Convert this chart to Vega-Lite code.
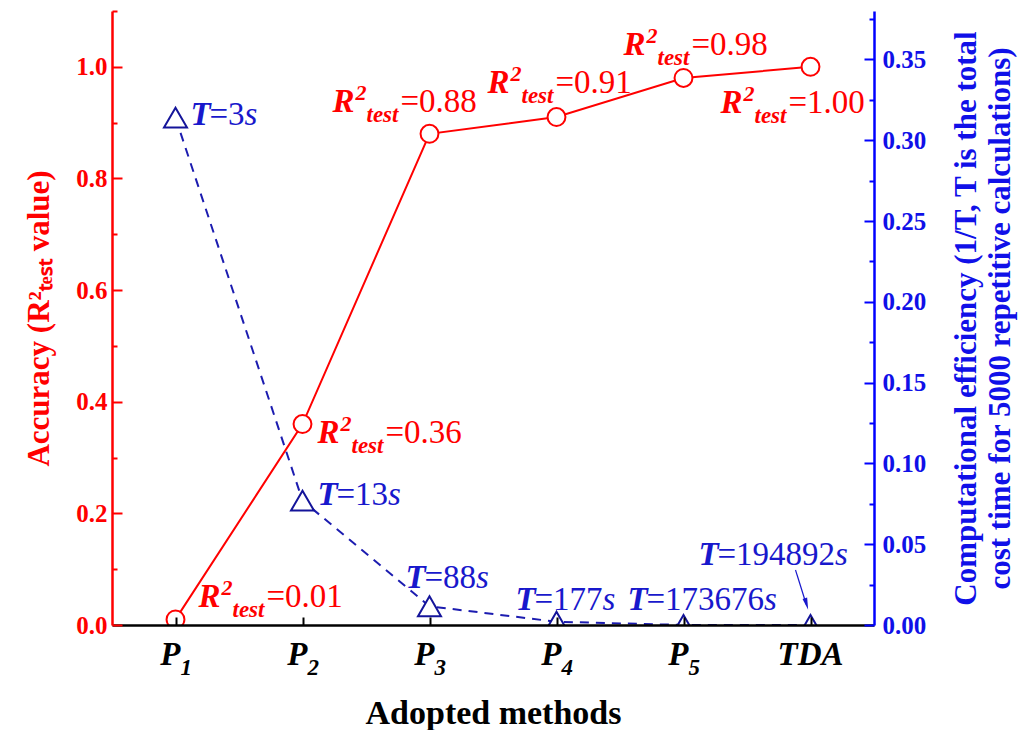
{
  "$schema": "https://vega.github.io/schema/vega-lite/v6.json",
  "width": 762,
  "height": 614,
  "autosize": "none",
  "padding": {"left": 112, "top": 11, "right": 151, "bottom": 105},
  "background": "white",
  "config": {"view": {"stroke": null}, "font": "Liberation Serif"},
  "params": [
    {"name": "rdx", "value": {"P1": 23, "P2": 15, "P3": -97, "P4": -69, "P5": -60, "TDA": -90}},
    {"name": "rdy", "value": {"P1": -12, "P2": 19, "P3": -22, "P4": -24, "P5": -23, "TDA": 46}},
    {"name": "tdx", "value": {"P1": 15, "P2": 15, "P3": -24, "P4": -41, "P5": -56, "TDA": -112}},
    {"name": "tdy", "value": {"P1": 7, "P2": 4, "P3": -18, "P4": -12, "P5": -15, "TDA": -60}}
  ],
  "data": {"values": [
    {"method": "P1", "acc": 0.01, "eff": 0.314, "accLabel": "=0.01", "tLabel": "=3"},
    {"method": "P2", "acc": 0.36, "eff": 0.077, "accLabel": "=0.36", "tLabel": "=13"},
    {"method": "P3", "acc": 0.88, "eff": 0.0116, "accLabel": "=0.88", "tLabel": "=88"},
    {"method": "P4", "acc": 0.91, "eff": 0.002, "accLabel": "=0.91", "tLabel": "=177"},
    {"method": "P5", "acc": 0.98, "eff": 0.0000058, "accLabel": "=0.98", "tLabel": "=173676"},
    {"method": "TDA", "acc": 1.0, "eff": 0.0000051, "accLabel": "=1.00", "tLabel": "=194892"}
  ]},
  "encoding": {
    "x": {
      "field": "method", "type": "ordinal", "sort": null,
      "scale": {"type": "point", "padding": 0.5},
      "axis": {
        "title": "Adopted methods", "titleFont": "Liberation Serif", "titleFontSize": 34, "titleFontWeight": "bold", "titleColor": "black", "titlePadding": 70,
        "labels": false,
        "domainColor": "black", "domainWidth": 2.5, "tickColor": "black", "tickWidth": 2, "tickSize": -8, "zindex": 1
      }
    }
  },
  "layer": [
    {
      "encoding": {
        "y": {
          "field": "acc", "type": "quantitative",
          "scale": {"domain": [0, 1.1], "nice": false, "zero": false},
          "axis": {
            "orient": "left",
            "title": "Accuracy (R²ₜₑₛₜ value)", "titleFont": "Liberation Serif", "titleFontSize": 31, "titleFontWeight": "bold", "titleColor": "#ff0000", "titlePadding": 20,
            "values": [0, 0.1, 0.2, 0.3, 0.4, 0.5, 0.6, 0.7, 0.8, 0.9, 1.0, 1.1],
            "labelExpr": "round(datum.value*10) % 2 == 0 ? format(datum.value, '.1f') : ''",
            "labelFont": "Liberation Serif", "labelFontSize": 25, "labelFontWeight": "bold", "labelColor": "#ff0000", "labelPadding": 15,
            "domainColor": "#ff0000", "domainWidth": 2.5, "tickColor": "#ff0000", "tickWidth": 2,
            "tickSize": {"condition": {"test": "round(datum.value*10) % 2 == 0", "value": -10}, "value": -5},
            "grid": false, "zindex": 1
          }
        }
      },
      "layer": [
        {"mark": {"type": "line", "color": "#ff0000", "strokeWidth": 2}},
        {"mark": {"type": "point", "shape": "circle", "filled": true, "fill": "white", "stroke": "#ff0000", "strokeWidth": 2, "size": 320, "opacity": 1, "clip": true}},
        {"mark": {"type": "text", "text": "R", "align": "left", "baseline": "alphabetic", "font": "Liberation Serif", "fontSize": 33, "fontWeight": "bold", "fontStyle": "italic", "color": "#ff0000",
          "dx": {"expr": "rdx[datum.method]"}, "dy": {"expr": "rdy[datum.method]"}}},
        {"mark": {"type": "text", "text": "2", "align": "left", "baseline": "alphabetic", "font": "Liberation Serif", "fontSize": 22, "fontWeight": "bold", "fontStyle": "italic", "color": "#ff0000",
          "dx": {"expr": "rdx[datum.method] + 23"}, "dy": {"expr": "rdy[datum.method] - 12"}}},
        {"mark": {"type": "text", "text": "test", "align": "left", "baseline": "alphabetic", "font": "Liberation Serif", "fontSize": 23, "fontWeight": "bold", "fontStyle": "italic", "color": "#ff0000",
          "dx": {"expr": "rdx[datum.method] + 34"}, "dy": {"expr": "rdy[datum.method] + 10"}}},
        {"mark": {"type": "text", "align": "left", "baseline": "alphabetic", "font": "Liberation Serif", "fontSize": 33, "color": "#ff0000",
          "dx": {"expr": "rdx[datum.method] + 68"}, "dy": {"expr": "rdy[datum.method]"}},
         "encoding": {"text": {"field": "accLabel"}}},
        {"mark": {"type": "text", "align": {"expr": "datum.method == 'TDA' ? 'center' : 'right'"}, "baseline": "alphabetic", "font": "Liberation Serif", "fontSize": 33, "fontWeight": "bold", "fontStyle": "italic", "color": "black",
          "text": {"expr": "datum.method == 'TDA' ? 'TDA' : 'P'"},
          "dx": {"expr": "datum.method == 'TDA' ? 0 : 5"}, "dy": 40},
         "encoding": {"y": {"datum": 0}}},
        {"mark": {"type": "text", "align": "left", "baseline": "alphabetic", "font": "Liberation Serif", "fontSize": 23, "fontWeight": "bold", "fontStyle": "italic", "color": "black",
          "text": {"expr": "datum.method == 'TDA' ? '' : substring(datum.method, 1)"},
          "dx": 5, "dy": 50},
         "encoding": {"y": {"datum": 0}}}
      ]
    },
    {
      "encoding": {
        "y": {
          "field": "eff", "type": "quantitative",
          "scale": {"domain": [0, 0.38], "nice": false, "zero": false},
          "axis": {
            "orient": "right",
            "title": ["Computational efficiency (1/T, T is the total", "cost time for 5000 repetitive calculations)"],
            "titleFont": "Liberation Serif", "titleFontSize": 31, "titleFontWeight": "bold", "titleColor": "#1010e8", "titleAngle": 270, "titlePadding": 23, "titleLineHeight": 34,
            "values": [0, 0.025, 0.05, 0.075, 0.1, 0.125, 0.15, 0.175, 0.2, 0.225, 0.25, 0.275, 0.3, 0.325, 0.35, 0.375],
            "labelExpr": "round(datum.value*40) % 2 == 0 ? format(datum.value, '.2f') : ''",
            "labelFont": "Liberation Serif", "labelFontSize": 25, "labelFontWeight": "bold", "labelColor": "#1010e8", "labelPadding": 18,
            "domainColor": "#0000ff", "domainWidth": 2.5, "tickColor": "#0000ff", "tickWidth": 2,
            "tickSize": {"condition": {"test": "round(datum.value*40) % 2 == 0", "value": -10}, "value": -5},
            "grid": false, "zindex": 1
          }
        }
      },
      "layer": [
        {"mark": {"type": "line", "color": "#1c1cb0", "strokeWidth": 2, "strokeDash": [9, 7]}},
        {"mark": {"type": "point", "shape": "triangle-up", "filled": true, "fill": "white", "stroke": "#14149a", "strokeWidth": 2, "size": 529, "opacity": 1, "clip": true}},
        {"mark": {"type": "text", "text": "T", "align": "left", "baseline": "alphabetic", "font": "Liberation Serif", "fontSize": 33, "fontWeight": "bold", "fontStyle": "italic", "color": "#1818cc",
          "dx": {"expr": "tdx[datum.method]"}, "dy": {"expr": "tdy[datum.method]"}}},
        {"mark": {"type": "text", "align": "left", "baseline": "alphabetic", "font": "Liberation Serif", "fontSize": 33, "color": "#1818cc",
          "dx": {"expr": "tdx[datum.method] + 19"}, "dy": {"expr": "tdy[datum.method]"}},
         "encoding": {"text": {"field": "tLabel"}}},
        {"mark": {"type": "text", "text": "s", "align": "left", "baseline": "alphabetic", "font": "Liberation Serif", "fontSize": 33, "fontStyle": "italic", "color": "#1818cc",
          "dx": {"expr": "tdx[datum.method] + 37.6 + 16.5*(length(datum.tLabel)-1)"}, "dy": {"expr": "tdy[datum.method]"}}},
        {"transform": [{"filter": "datum.method == 'TDA'"}],
         "mark": {"type": "rule", "color": "#1818cc", "strokeWidth": 1.2, "xOffset": -15, "yOffset": -55, "x2Offset": -4, "y2Offset": -20},
         "encoding": {"x2": {"field": "method"}, "y2": {"field": "eff"}}},
        {"transform": [{"filter": "datum.method == 'TDA'"}],
         "mark": {"type": "point", "shape": "M -0.4 -1 L 0 1 L 0.4 -1 Z", "filled": true, "color": "#1818cc", "opacity": 1, "size": 144, "angle": 344, "xOffset": -4, "yOffset": -21}}
      ]
    }
  ],
  "resolve": {"scale": {"y": "independent"}}
}
